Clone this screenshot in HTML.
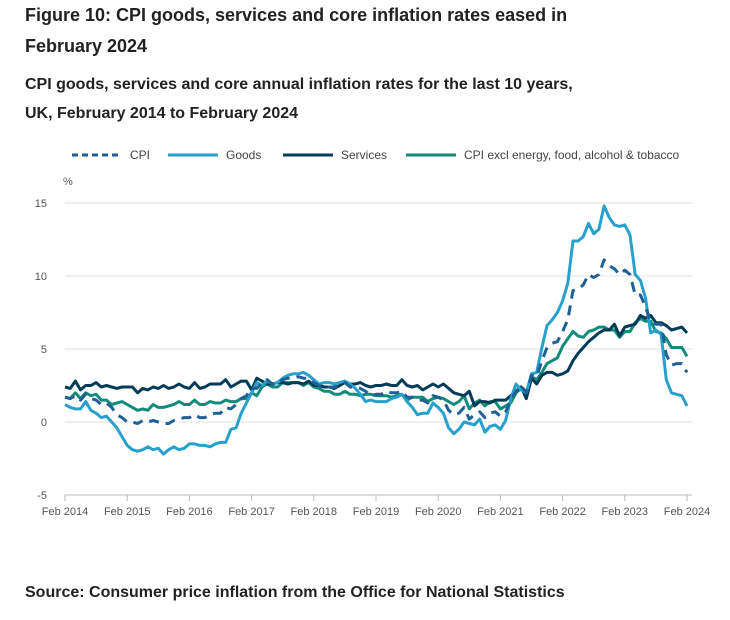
<!DOCTYPE html>
<html><head><meta charset="utf-8"><style>
body{margin:0;background:#fff;font-family:"Liberation Sans",sans-serif;color:#222;}
.wrap{position:relative;width:730px;height:620px;}
h1{position:absolute;left:25px;top:0;margin:0;font-size:18px;line-height:31px;font-weight:bold;width:560px;}
h2{position:absolute;left:25px;top:70px;margin:0;font-size:16px;line-height:29px;font-weight:bold;width:560px;}
.src{position:absolute;left:25px;top:584px;font-size:16px;font-weight:bold;}
svg{position:absolute;left:0;top:0;}
</style></head><body><div class="wrap">
<h1>Figure 10: CPI goods, services and core inflation rates eased in February 2024</h1>
<h2>CPI goods, services and core annual inflation rates for the last 10 years, UK, February 2014 to February 2024</h2>
<svg id="c" width="730" height="620"></svg>
<div class="src">Source: Consumer price inflation from the Office for National Statistics</div>
</div>
<script>
const xTickLabels=["Feb 2014","Feb 2015","Feb 2016","Feb 2017","Feb 2018","Feb 2019","Feb 2020","Feb 2021","Feb 2022","Feb 2023","Feb 2024"];
const yTicks=[15,10,5,0,-5];
const cpi=[1.7,1.6,1.8,1.5,1.9,1.6,1.5,1.2,1.3,1.0,0.5,0.3,0.0,0.0,-0.1,0.1,0.0,0.1,0.0,-0.1,-0.1,0.1,0.2,0.3,0.3,0.5,0.3,0.3,0.5,0.6,0.6,1.0,0.9,1.2,1.6,1.8,2.3,2.3,2.7,2.9,2.6,2.6,2.9,3.0,3.0,3.1,3.0,3.0,2.7,2.5,2.4,2.4,2.4,2.5,2.7,2.4,2.4,2.3,2.1,1.8,1.9,1.9,2.1,2.0,2.0,2.1,1.7,1.7,1.5,1.5,1.3,1.8,1.7,1.5,0.8,0.5,0.6,1.0,0.2,0.5,0.7,0.3,0.6,0.7,0.4,0.7,1.5,2.1,2.5,2.0,3.2,3.1,4.2,5.1,5.4,5.5,6.2,7.0,9.0,9.1,9.4,10.1,9.9,10.1,11.1,10.7,10.5,10.1,10.4,10.1,8.7,8.7,7.9,6.8,6.7,6.7,4.6,3.9,4.0,4.0,3.4];
const goods=[1.2,1.0,0.9,0.9,1.4,0.8,0.6,0.3,0.4,0.0,-0.4,-1.0,-1.6,-1.9,-2.0,-1.9,-1.7,-1.9,-1.8,-2.2,-1.9,-1.7,-1.9,-1.8,-1.5,-1.5,-1.6,-1.6,-1.7,-1.5,-1.4,-1.4,-0.5,-0.4,0.6,1.3,2.0,2.7,2.5,2.8,2.6,2.7,3.0,3.2,3.3,3.3,3.4,3.2,2.9,2.6,2.7,2.7,2.6,2.7,2.8,2.6,2.3,1.9,1.4,1.5,1.4,1.4,1.4,1.6,1.7,1.9,1.4,1.0,0.5,0.6,0.6,1.3,1.0,0.6,-0.4,-0.8,-0.5,0.0,-0.1,-0.2,0.2,-0.7,-0.3,-0.2,-0.5,0.1,1.6,2.6,2.2,2.0,3.3,3.4,5.1,6.6,7.0,7.5,8.3,9.5,12.4,12.4,12.7,13.6,12.9,13.2,14.8,14.0,13.5,13.4,13.5,12.8,10.1,9.7,8.5,6.1,6.3,6.0,2.9,2.0,1.9,1.8,1.1];
const services=[2.4,2.3,2.8,2.2,2.5,2.5,2.7,2.4,2.5,2.4,2.3,
2.4,2.4,2.4,2.0,2.3,2.2,2.4,2.3,2.5,2.3,2.4,2.6,
2.4,2.3,2.7,2.3,2.4,2.6,2.6,2.6,2.9,2.4,2.6,2.8,
2.8,2.2,3.0,2.8,2.6,2.6,2.7,2.7,2.6,2.7,2.7,2.6,
2.8,2.5,2.5,2.4,2.4,2.3,2.5,2.7,2.6,2.6,2.7,2.5,
2.4,2.5,2.5,2.6,2.5,2.5,2.9,2.5,2.4,2.5,2.2,2.4,
2.6,2.4,2.6,2.3,2.0,1.9,1.8,2.1,1.1,1.4,1.4,1.3,
1.5,1.5,1.5,1.8,2.1,2.4,1.6,3.0,2.6,3.2,3.4,3.4,
3.2,3.3,3.5,4.2,4.7,5.1,5.5,5.8,6.1,6.3,6.3,6.7,
5.9,6.5,6.6,6.7,7.3,7.1,7.3,6.8,6.8,6.6,6.3,6.4,
6.5,6.1];
const core=[1.7,1.6,2.0,1.6,2.0,1.8,1.9,1.5,1.5,1.2,1.3,1.4,1.2,1.0,0.8,0.9,0.8,1.2,1.0,1.0,1.1,1.2,1.4,1.2,1.2,1.5,1.2,1.2,1.4,1.3,1.3,1.5,1.4,1.4,1.6,1.6,2.0,1.8,2.4,2.6,2.4,2.4,2.7,2.7,2.7,2.7,2.5,2.7,2.4,2.3,2.1,2.1,1.9,1.9,2.1,1.9,1.9,1.8,1.9,1.9,1.8,1.8,1.8,1.7,1.8,1.9,1.5,1.7,1.7,1.7,1.4,1.6,1.7,1.6,1.4,1.2,1.4,1.8,0.9,1.3,1.5,1.1,1.4,1.4,0.9,1.1,1.3,2.0,2.3,1.8,3.1,2.9,3.4,4.0,4.2,4.4,5.2,5.7,6.2,5.9,5.8,6.2,6.3,6.5,6.5,6.3,6.3,5.8,6.2,6.2,6.8,7.1,6.9,6.9,6.2,6.1,5.7,5.1,5.1,5.1,4.5];
const NS='http://www.w3.org/2000/svg';
const svg=document.getElementById('c');
const X0=65,X1=687,Y0=422,PX=14.6;
const xs=i=>X0+i*(X1-X0)/120;
const ys=v=>Y0-v*PX;
function mk(t,a,p){const e=document.createElementNS(NS,t);for(const k in a)e.setAttribute(k,a[k]);(p||svg).appendChild(e);return e;}
yTicks.forEach(v=>{
 const g=mk('line',{x1:X0,x2:692,y1:ys(v),y2:ys(v),stroke:v===-5?'#bbb':'#e0e0e0','stroke-width':1});
 
 
 const t=mk('text',{x:47,y:ys(v)+4,'text-anchor':'end','font-size':11,fill:'#555','font-family':'Liberation Sans, sans-serif'});
 t.textContent=v;
 
 
});
const pct=mk('text',{x:63,y:185,'font-size':11,fill:'#555','font-family':'Liberation Sans, sans-serif'});pct.textContent='%';


xTickLabels.forEach((l,k)=>{
 const x=xs(k*12);
 const tk=mk('line',{x1:x,x2:x,y1:495,y2:501,stroke:'#bbb'});
 
 
 const t=mk('text',{x:x,y:515,'text-anchor':'middle','font-size':11,fill:'#555','font-family':'Liberation Sans, sans-serif'});
 t.textContent=l;
 
 
});
function series(arr,color,name,dash){
 const d=arr.map((v,i)=>(i?'L':'M')+xs(i).toFixed(1)+' '+ys(v).toFixed(1)).join(' ');
 const p=mk('path',{d:d,fill:'none',stroke:color,'stroke-width':3,'stroke-linejoin':'round'});
 if(dash)p.setAttribute('stroke-dasharray',dash);
 
 
}
series(core,'#118c7b','core-line');
series(services,'#003c57','services-line');
series(goods,'#27a0cc','goods-line');
series(cpi,'#206095','cpi-line','10 7');
const leg=[['CPI','#206095','6 4',72],['Goods','#27a0cc',null,168],['Services','#003c57',null,283],['CPI excl energy, food, alcohol & tobacco','#118c7b',null,406]];
leg.forEach(l=>{
 const g=mk('g',{});
 
 
 const ln=mk('line',{x1:l[3],x2:l[3]+50,y1:155,y2:155,stroke:l[1],'stroke-width':3},g);
 if(l[2])ln.setAttribute('stroke-dasharray',l[2]);
 const t=mk('text',{x:l[3]+58,y:159,'font-size':12,fill:'#444','font-family':'Liberation Sans, sans-serif'},g);
 t.textContent=l[0];
});
</script></body></html>
